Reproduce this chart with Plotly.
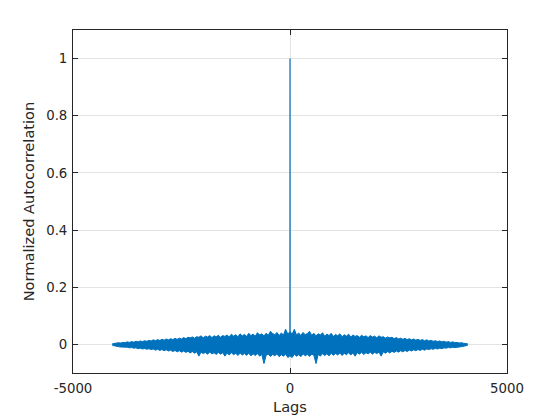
import plotly.graph_objects as go

# Positive-lag envelope of the autocorrelation (every 50 lags);
# autocorrelation is symmetric, negative lags mirror these.
env_lags = list(range(0, 4051, 50)) + [4095]
env_upper = [0.045, 0.036, 0.053, 0.033, 0.040, 0.031, 0.042, 0.034, 0.038, 0.046,
             0.032, 0.039, 0.030, 0.037, 0.033, 0.041, 0.029, 0.036, 0.031, 0.039,
             0.028, 0.035, 0.030, 0.037, 0.027, 0.034, 0.029, 0.036, 0.026, 0.033,
             0.028, 0.031, 0.025, 0.032, 0.027, 0.030, 0.024, 0.031, 0.026, 0.029,
             0.023, 0.030, 0.025, 0.027, 0.022, 0.026, 0.023, 0.025, 0.020, 0.024,
             0.019, 0.022, 0.018, 0.021, 0.017, 0.020, 0.016, 0.019, 0.015, 0.018,
             0.014, 0.017, 0.013, 0.016, 0.012, 0.014, 0.011, 0.013, 0.010, 0.012,
             0.009, 0.011, 0.008, 0.010, 0.007, 0.009, 0.006, 0.007, 0.005, 0.006,
             0.004, 0.004, 0.002]
env_lower = [-0.040, -0.046, -0.034, -0.041, -0.036, -0.043, -0.033, -0.040, -0.035, -0.042,
             -0.034, -0.038, -0.067, -0.035, -0.041, -0.032, -0.039, -0.033, -0.040, -0.031,
             -0.038, -0.032, -0.037, -0.030, -0.039, -0.031, -0.036, -0.029, -0.037, -0.030,
             -0.041, -0.029, -0.034, -0.028, -0.035, -0.029, -0.033, -0.027, -0.034, -0.028,
             -0.032, -0.027, -0.041, -0.026, -0.031, -0.025, -0.030, -0.024, -0.028, -0.023,
             -0.027, -0.022, -0.026, -0.021, -0.025, -0.020, -0.023, -0.019, -0.022, -0.018,
             -0.021, -0.017, -0.020, -0.016, -0.018, -0.015, -0.017, -0.014, -0.016, -0.013,
             -0.015, -0.012, -0.013, -0.011, -0.012, -0.010, -0.011, -0.009, -0.009, -0.008,
             -0.007, -0.005, -0.003]

# Central peak
peak_lags = [-2, -1, 0, 1, 2]
peak_vals = [0.0, 0.5, 1.0, 0.5, 0.0]

x_tick_vals = [-5000, 0, 5000]
x_tick_text = ["-5000", "0", "5000"]
y_tick_vals = [0, 0.2, 0.4, 0.6, 0.8, 1.0]
y_tick_text = ["0", "0.2", "0.4", "0.6", "0.8", "1"]

BLUE = "#0072BD"
DARK = "#262626"

full_lags = [-l for l in env_lags[::-1]] + env_lags[1:]
full_upper = env_upper[::-1] + env_upper[1:]
full_lower = env_lower[::-1] + env_lower[1:]

fig = go.Figure()
fig.add_trace(go.Scatter(x=full_lags, y=full_lower, mode="lines",
                         line=dict(color=BLUE, width=1),
                         hoverinfo="skip", showlegend=False))
fig.add_trace(go.Scatter(x=full_lags, y=full_upper, mode="lines",
                         line=dict(color=BLUE, width=1),
                         fill="tonexty", fillcolor=BLUE,
                         hoverinfo="skip", showlegend=False))
fig.add_trace(go.Scatter(x=peak_lags, y=peak_vals, mode="lines",
                         line=dict(color=BLUE, width=1.2),
                         showlegend=False))

axis_common = dict(
    showline=True, linecolor=DARK, linewidth=1, mirror="allticks",
    ticks="inside", ticklen=5, tickcolor=DARK,
    showgrid=True, gridcolor="#e3e3e3", gridwidth=1, zeroline=False,
    automargin=False,
    tickfont=dict(family="DejaVu Sans", size=13.3, color=DARK),
)

fig.update_xaxes(range=[-5000, 5000], tickvals=x_tick_vals, ticktext=x_tick_text,
                 ticklabelstandoff=3,
                 title=dict(text="Lags", font=dict(family="DejaVu Sans", size=14.6, color=DARK),
                            standoff=6),
                 **axis_common)
fig.update_yaxes(range=[-0.1, 1.1], tickvals=y_tick_vals, ticktext=y_tick_text,
                 ticklabelstandoff=2,
                 title=dict(text="Normalized Autocorrelation",
                            font=dict(family="DejaVu Sans", size=14.6, color=DARK),
                            standoff=8),
                 **axis_common)

# The page body has an 8px default margin, so the figure is sized to fit the window.
fig.update_layout(
    width=552, height=412,
    margin=dict(l=65, r=53, t=22, b=47),
    paper_bgcolor="white", plot_bgcolor="white",
    showlegend=False,
)

fig.write_html("out.html")
